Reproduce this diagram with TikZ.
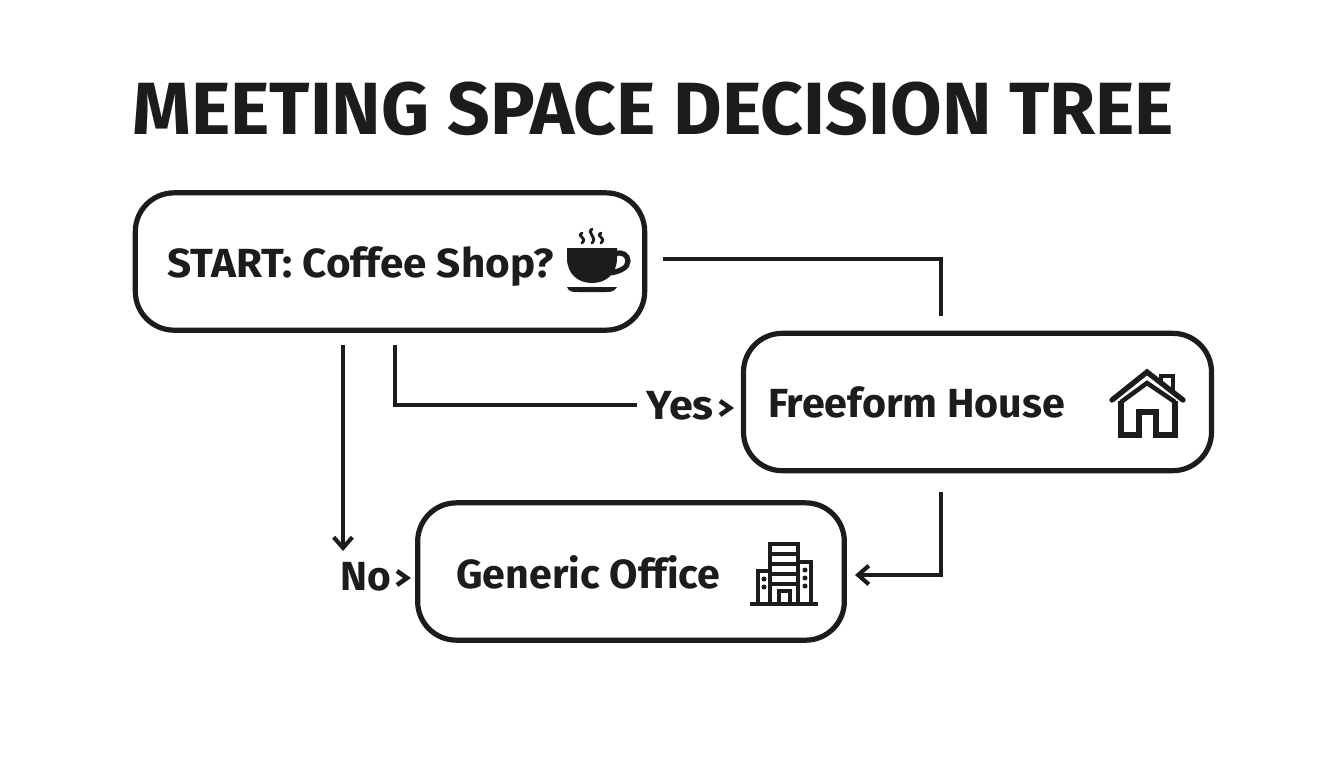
\documentclass[tikz,border=0pt]{standalone}
\usepackage{fontspec}
\setmainfont[Ligatures=NoCommon]{Fira Sans}
\usetikzlibrary{arrows.meta}
\definecolor{ink}{HTML}{1C1C1C}
\tikzset{
  box/.style={draw=ink,line width=3.9pt,rounded corners=29pt,minimum height=103pt,inner sep=0pt,fill=white},
  lbl/.style={text=ink,font=\bfseries\fontsize{30.5}{34}\selectfont,inner sep=0pt,anchor=base west},
  conn/.style={draw=ink,line width=3.1pt,miter limit=10},
  arr/.style={conn,-{Straight Barb[length=8pt,width=14pt,line width=3.1pt]}},
  chev/.style={draw=ink,line width=3.4pt,miter limit=10},
  icon/.style={draw=ink,line width=3.4pt,line join=miter}
}
\begin{document}
\begin{tikzpicture}[x=0.75pt,y=-0.75pt]
\useasboundingbox (0,0) rectangle (1344,768);
\fill[white] (0,0) rectangle (1344,768);
\node[text=ink,font=\bfseries\fontsize{55.5}{60}\selectfont,inner sep=0pt,anchor=base west] (title) at (132,134) {\scalebox{1.01}[1]{MEETING SPACE DECISION TREE}};
\node[box,minimum width=382pt] (start) at (390,261.5) {};
\node[box,minimum width=351pt] (house) at (977.5,402) {};
\node[box,minimum width=320pt] (office) at (631,571.5) {};
\node[lbl] (tstart) at (167,277) {\scalebox{1.038}[1]{START: Coffee Shop?}};
\node[lbl] (thouse) at (768,417) {\scalebox{1.014}[1]{Freeform House}};
\node[lbl] (toffice) at (456,588) {\scalebox{1.012}[1]{Generic Office}};
\node[lbl] (yes) at (646,419) {\scalebox{1.06}[1]{Yes}};
\node[lbl] (no) at (340,590) {No};
% connectors
\coordinate (a1) at (663,259);
\coordinate (a2) at (941,316);
\coordinate (b1) at (395,345);
\coordinate (b2) at (637,405);
\coordinate (c1) at (343,345);
\coordinate (c2) at (343,551);
\coordinate (d1) at (941,492);
\coordinate (d2) at (855,575);
\draw[conn] (a1) -| (a2);
\draw[conn] (b1) |- (b2);
\draw[arr] (c1) -- (c2);
\draw[arr] (d1) |- (d2);
% chevrons
\draw[chev] (720,401) -- (730,408) -- (720,415);
\draw[chev] (397,571) -- (407,578) -- (397,585);
% cup
\fill[ink] (567,248) -- (617,248) -- (617,258) .. controls (617,274) and (606,283) .. (592,283) .. controls (578,283) and (567,274) .. (567,258) -- cycle;
\draw[ink,line width=3.9pt] (615,254) .. controls (622,251) and (628,255) .. (628,261) .. controls (628,268) and (620,271) .. (611,273);
\fill[ink] (567,287) -- (617,287) .. controls (614,292) and (610,292) .. (606,292) -- (578,292) .. controls (572,292) and (569,292) .. (567,287) -- cycle;
\foreach \x/\t in {582/233,592/229,601/233}
  \draw[ink,line width=2.1pt,line cap=round] (\x,\t) .. controls (\x-6,\t+4) and (\x+6,242-5) .. (\x,243);
% house
\draw[ink,line width=4pt,line cap=round,line join=miter] (1112,400) -- (1147,372) -- (1183,400);
\draw[icon,line width=3.4pt] (1121,402) -- (1147,383) -- (1175,402);
\draw[icon,line width=3.9pt] (1121,401) -- (1121,435) -- (1139,435) -- (1139,412) -- (1156,412) -- (1156,435) -- (1175,435) -- (1175,401);
\draw[icon,line width=3pt] (1161,381) -- (1161,375.5) -- (1173,375.5) -- (1173,391);
% office
\draw[ink,line width=3.2pt] (750,604) -- (818,604);
\draw[icon,line width=3pt] (770,604) -- (770,544) -- (798,544) -- (798,604);
\foreach \y in {554,564,574,584} \draw[ink,line width=2.6pt] (770,\y) -- (798,\y);
\draw[icon,line width=3pt] (758,604) -- (758,571) -- (770,571);
\draw[icon,line width=3pt] (798,562) -- (811,562) -- (811,604);
\draw[icon,line width=2.6pt] (779,604) -- (779,591) -- (790,591) -- (790,604);
\foreach \x/\y in {764/579,764/587,805/570,805/578,805/586}
  \fill[ink] (\x,\y) circle (2.5);
\end{tikzpicture}
\end{document}
